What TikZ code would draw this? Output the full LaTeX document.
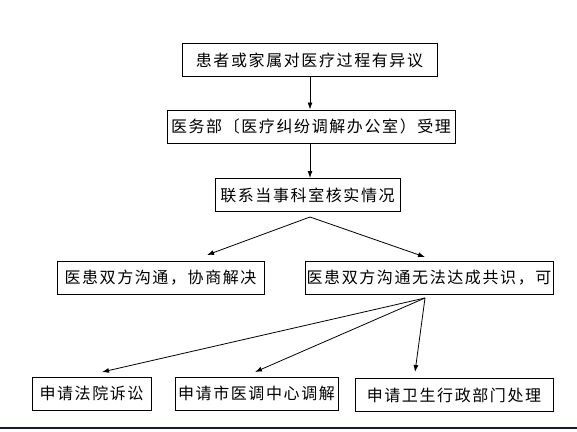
\documentclass[tikz,border=0pt]{standalone}
\usepackage{fontspec}
\newfontfamily\cjk[LetterSpace=10]{Noto Sans CJK SC}
\usepackage{xcolor}
\usetikzlibrary{arrows.meta,calc}
\definecolor{scanline}{RGB}{20,24,70}

\begin{document}
\begin{tikzpicture}[x=1pt, y=-1pt, font=\cjk\fontsize{16}{19}\selectfont, >={Latex[length=7pt,width=5pt]},
  bx/.style={draw, line width=1pt, minimum width=#1, minimum height=33pt, inner sep=0pt},
  bx/.default=150pt]
\useasboundingbox (0,0) rectangle (577,431);
\node[bx=255pt] (ask) at (309.5,60) {患者或家属对医疗过程有异议};
\node[bx=288pt] (acc) at (311,126.5) {医务部〔医疗纠纷调解办公室）受理};
\node[bx=185pt] (chk) at (307.5,195) {联系当事科室核实情况};
\node[bx=207pt] (nego) at (160.5,277.5) {医患双方沟通，协商解决};
\node[bx=248pt] (fail) at (429,277.5) {医患双方沟通无法达成共识，可};
\node[bx=119pt] (court) at (91.5,393.5) {申请法院诉讼};
\node[bx=163pt] (med) at (256.5,393.5) {申请市医调中心调解};
\node[bx=198pt] (hlth) at (454,395) {申请卫生行政部门处理};
\draw[->, line width=0.8pt] (ask.south -| 310,0) -- (acc.north -| 310,0);
\draw[->, line width=0.8pt] (acc.south -| 310,0) -- (chk.north -| 310,0);
% fork below the check box
\coordinate (f1) at ($(chk.south)+(2.5,5)$);
\coordinate (e4) at (207,255);
\coordinate (e5) at (425,257);
\draw[->, line width=0.8pt] (f1) -- (e4);
\draw[->, line width=0.8pt] (f1) -- (e5);
% three ways out
\coordinate (f2) at (425,298);
\coordinate (e6) at (102,372);
\coordinate (e7) at (255,372);
\coordinate (e8) at (415,372);
\foreach \i in {6,7,8} \draw[->, line width=0.8pt] (f2) -- (e\i);
\draw[scanline, line width=1.5pt] (0,428) -- (577,428);
\end{tikzpicture}
\end{document}
